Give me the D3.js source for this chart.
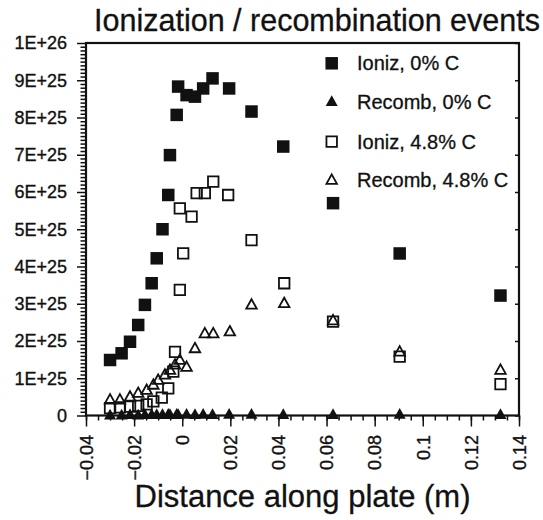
<!DOCTYPE html>
<html>
<head>
<meta charset="utf-8">
<title>Ionization / recombination events</title>
<script src="https://cdn.jsdelivr.net/npm/d3@7"></script>
<style>
  body { margin: 0; background: #fff; }
  svg text { font-family: "Liberation Sans", Arial, Helvetica, sans-serif; fill: #111; }
  .axis path { display: none; }
  .axis line { stroke: #111; stroke-width: 1.5; }
  .axis text { font-size: 18px; stroke: #111; stroke-width: 0.35; }
  .frame { fill: none; stroke: #111; stroke-width: 2.2; }
  .title { font-size: 30.5px; text-anchor: middle; stroke: #111; stroke-width: 0.3; }
  .xlabel { font-size: 31px; text-anchor: middle; stroke: #111; stroke-width: 0.3; }
  .legend text { font-size: 20px; stroke: #111; stroke-width: 0.3; }
</style>
</head>
<body>
<script>
// values; x in metres, y in units of 1E+25 events
var ionizPlain = [
  [-0.030, 1.49], [-0.0252, 1.67], [-0.0217, 1.98], [-0.0183, 2.43], [-0.0155, 2.97],
  [-0.0127, 3.55], [-0.0106, 4.22], [-0.0082, 5.00], [-0.0058, 5.92], [-0.0051, 6.99],
  [-0.0023, 8.07], [-0.0017, 8.83], [0.0018, 8.60], [0.0053, 8.56], [0.0087, 8.78],
  [0.0126, 9.05], [0.0195, 8.78], [0.0288, 8.16], [0.0420, 7.22], [0.0627, 5.70],
  [0.0904, 4.35], [0.1323, 3.22]
];
var recombPlain = [
  [-0.030, 0.01], [-0.0252, 0.01], [-0.0217, 0.02], [-0.0183, 0.01], [-0.0155, 0.02],
  [-0.0127, 0.02], [-0.0106, 0.02], [-0.0082, 0.02], [-0.0058, 0.03], [-0.0051, 0.02],
  [-0.0023, 0.03], [-0.0017, 0.02], [0.0018, 0.03], [0.0053, 0.02], [0.0087, 0.03],
  [0.0126, 0.02], [0.0195, 0.03], [0.0288, 0.03], [0.0420, 0.02], [0.0627, 0.02],
  [0.0904, 0.03], [0.1323, 0.02]
];
var ionizCarbon = [
  [-0.030, 0.20], [-0.0259, 0.22], [-0.0217, 0.24], [-0.0183, 0.26], [-0.0148, 0.30],
  [-0.012, 0.38], [-0.0085, 0.48], [-0.0058, 0.73], [-0.0037, 1.18], [-0.003, 1.71],
  [-0.001, 3.37], [-0.001, 5.56], [0.0004, 4.35], [0.0039, 5.34], [0.0060, 5.97],
  [0.0094, 5.97], [0.0129, 6.28], [0.0191, 5.92], [0.0288, 4.71], [0.0424, 3.55],
  [0.0627, 2.52], [0.0904, 1.58], [0.1323, 0.84]
];
var recombCarbon = [
  [-0.030, 0.42], [-0.0259, 0.42], [-0.0217, 0.50], [-0.0183, 0.60], [-0.0148, 0.68],
  [-0.012, 0.82], [-0.010, 0.95], [-0.0072, 1.09], [-0.0051, 1.22], [-0.003, 1.36],
  [-0.001, 1.49], [0.0018, 1.30], [0.0053, 1.80], [0.0094, 2.20], [0.0129, 2.20],
  [0.0198, 2.25], [0.0288, 2.97], [0.0424, 3.01], [0.0627, 2.55], [0.0904, 1.71],
  [0.1323, 1.22]
];
var legendNames = ["Ioniz, 0% C", "Recomb, 0% C", "Ioniz, 4.8% C", "Recomb, 4.8% C"];
var xTickValues = [-0.04, -0.02, 0, 0.02, 0.04, 0.06, 0.08, 0.1, 0.12, 0.14];
var yTickValues = [0, 1, 2, 3, 4, 5, 6, 7, 8, 9, 10];
var yTickLabels = ["0", "1E+25", "2E+25", "3E+25", "4E+25", "5E+25", "6E+25", "7E+25", "8E+25", "9E+25", "1E+26"];
var title = "Ionization / recombination events";
var xTitle = "Distance along plate (m)";
</script>
<script>
var width = 543, height = 520;
var svg = d3.select("body").append("svg").attr("width", width).attr("height", height);

var x = d3.scaleLinear().domain([-0.04, 0.14]).range([86, 519]);
var y = d3.scaleLinear().domain([0, 10]).range([415.5, 43]);

// marker shapes
function square(s) {
  return "M" + (-s / 2) + "," + (-s / 2) + "h" + s + "v" + s + "h" + (-s) + "Z";
}
function triangle(w) {
  var h = w * 0.9;
  return "M0," + (-h * 0.6) + "L" + (w / 2) + "," + (h * 0.4) + "L" + (-w / 2) + "," + (h * 0.4) + "Z";
}
var series = [
  { data: ionizPlain, d: square(12.5), fill: "#111", stroke: "none" },
  { data: recombPlain, d: triangle(12), fill: "#111", stroke: "none" },
  { data: ionizCarbon, d: square(10.5), fill: "none", stroke: "#111" },
  { data: recombCarbon, d: triangle(10.5), fill: "none", stroke: "#111" }
];

// frame
svg.append("rect").attr("class", "frame")
  .attr("x", x(-0.04)).attr("y", y(10))
  .attr("width", x(0.14) - x(-0.04)).attr("height", y(0) - y(10));

// y axis: minor + major ticks
var yMinor = d3.range(0, 101).map(function (i) { return i / 10; })
  .filter(function (v) { return Math.abs(v - Math.round(v)) > 1e-6; });
svg.append("g").attr("class", "axis").attr("transform", "translate(" + x(-0.04) + ",0)")
  .call(d3.axisLeft(y).tickValues(yMinor).tickSize(5.5).tickFormat(""));
svg.append("g").attr("class", "axis").attr("transform", "translate(" + x(-0.04) + ",0)")
  .call(d3.axisLeft(y).tickValues(yTickValues).tickSize(9).tickPadding(10)
    .tickFormat(function (d, i) { return yTickLabels[i]; }));
svg.append("g").attr("class", "axis").attr("transform", "translate(" + x(0.14) + ",0)")
  .call(d3.axisRight(y).tickValues(yTickValues).tickSize(-4).tickFormat(""));

// x axis
var xMinor = d3.range(0, 37).map(function (i) { return -0.04 + i * 0.005; });
svg.append("g").attr("class", "axis").attr("transform", "translate(0," + y(0) + ")")
  .call(d3.axisBottom(x).tickValues(xMinor).tickSize(5).tickFormat(""));
svg.append("g").attr("class", "axis").attr("transform", "translate(0," + y(0) + ")")
  .call(d3.axisBottom(x).tickValues(xTickValues).tickSize(11).tickFormat(function (d) { return d3.format("")(+d.toFixed(2)); }))
  .selectAll("text")
  .attr("transform", "rotate(-90)")
  .attr("text-anchor", "end")
  .attr("x", -19.5)
  .attr("y", 0)
  .attr("dy", "0.35em");

// points
series.forEach(function (s) {
  svg.append("g").selectAll("path")
    .data(s.data)
    .enter().append("path")
    .attr("transform", function (d) { return "translate(" + x(d[0]) + "," + y(d[1]) + ")"; })
    .attr("d", s.d)
    .attr("fill", s.fill)
    .attr("stroke", s.stroke)
    .attr("stroke-width", 1.8);
});

// legend
var legend = svg.append("g").attr("class", "legend");
var legendY = [63.3, 101.7, 141.7, 180];
legendNames.forEach(function (name, i) {
  var s = series[i];
  legend.append("path")
    .attr("transform", "translate(331.7," + legendY[i] + ")")
    .attr("d", s.d).attr("fill", s.fill).attr("stroke", s.stroke).attr("stroke-width", 1.8);
  legend.append("text").attr("x", 357).attr("y", legendY[i]).attr("dy", "0.35em").text(name);
});

// titles
svg.append("text").attr("class", "title").attr("x", 317).attr("y", 31).text(title);
svg.append("text").attr("class", "xlabel").attr("x", 302.5).attr("y", 507).text(xTitle);
</script>
</body>
</html>
